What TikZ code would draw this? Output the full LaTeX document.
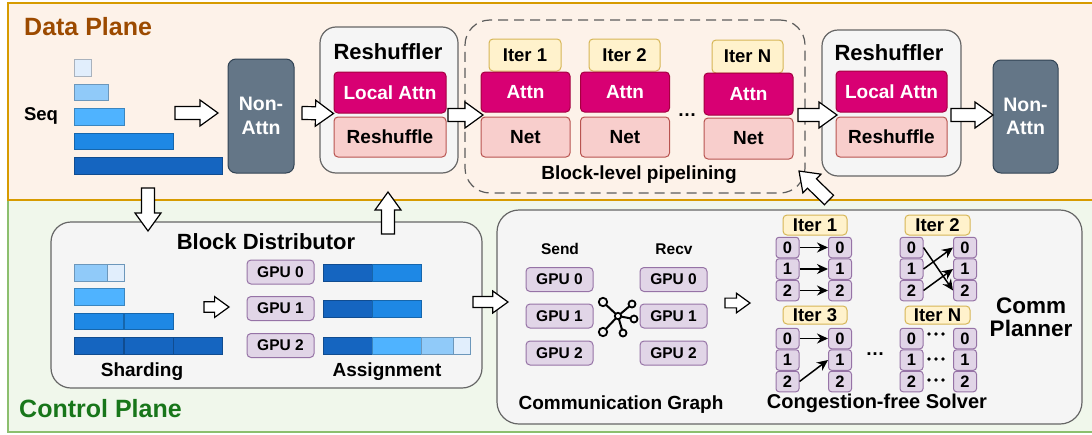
\documentclass[tikz,border=0pt]{standalone}
\usepackage{fontspec}
\setmainfont{Liberation Sans}
\usetikzlibrary{calc,arrows.meta}

\definecolor{dpFill}{HTML}{FDF2E9}
\definecolor{dpLine}{HTML}{D79B00}
\definecolor{dpText}{HTML}{9C4A00}
\definecolor{cpFill}{HTML}{F0F7EB}
\definecolor{cpLine}{HTML}{8CBF6E}
\definecolor{cpText}{HTML}{18761A}
\definecolor{hdFill}{HTML}{F5F5F5}
\definecolor{hdLine}{HTML}{666666}
\definecolor{naFill}{HTML}{647687}
\definecolor{naLine}{HTML}{314354}
\definecolor{atFill}{HTML}{D80073}
\definecolor{atLine}{HTML}{A50040}
\definecolor{ntFill}{HTML}{F8CECC}
\definecolor{ntLine}{HTML}{B85450}
\definecolor{itFill}{HTML}{FFF2CC}
\definecolor{itLine}{HTML}{D6B656}
\definecolor{gpFill}{HTML}{E1D5E7}
\definecolor{gpLine}{HTML}{9673A6}
\definecolor{sqA}{HTML}{E1EEFC}
\definecolor{sqB}{HTML}{90CAF9}
\definecolor{sqC}{HTML}{4FB3FF}
\definecolor{sqD}{HTML}{1E88E5}
\definecolor{sqE}{HTML}{1565C0}
\definecolor{dashLine}{HTML}{5C5C5C}

\newcommand{\pxf}[1]{\fontsize{#1}{#1}\selectfont\bfseries}

% white block arrow from #2 to #3, #1 scales it
\newcommand{\fatarrow}[3][1]{%
  \pgfmathsetlengthmacro{\faS}{6.5pt*#1}%
  \pgfmathsetlengthmacro{\faH}{13pt*#1}%
  \pgfmathsetlengthmacro{\faL}{18pt*#1}%
  \coordinate (fa-base) at ($(#3)!\faL!(#2)$);
  \draw[fatarr] ($(#2)!\faS!90:(#3)$) -- ($(fa-base)!\faS!90:(#3)$)
    -- ($(fa-base)!\faH!90:(#3)$) -- (#3) -- ($(fa-base)!\faH!-90:(#3)$)
    -- ($(fa-base)!\faS!-90:(#3)$) -- ($(#2)!\faS!-90:(#3)$) -- cycle;
}

\tikzset{
  box/.style={draw, line width=1pt, rounded corners=4pt, align=center, inner sep=0pt},
  nonattn/.style={box, fill=naFill, draw=naLine, text=white, rounded corners=8pt,
    minimum width=66pt, minimum height=114pt, font=\pxf{19.5}},
  holder/.style={box, fill=hdFill, draw=hdLine, line width=1.2pt, rounded corners=16pt},
  pipebox/.style={draw=dashLine, line width=1.2pt, rounded corners=25pt,
    dash pattern=on 10pt off 6pt, inner sep=0pt},
  attn/.style={box, fill=atFill, draw=atLine, text=white, minimum width=89pt,
    minimum height=40pt, font=\pxf{19}},
  net/.style={box, fill=ntFill, draw=ntLine, minimum width=89pt, minimum height=40pt,
    font=\pxf{19}},
  iter/.style={box, fill=itFill, draw=itLine, minimum width=72pt, minimum height=32pt,
    font=\pxf{18.5}},
  gpu/.style={box, fill=gpFill, draw=gpLine, minimum width=67pt, minimum height=24pt,
    font=\pxf{15.5}},
  cell/.style={box, fill=gpFill, draw=gpLine, rounded corners=3pt, minimum width=23pt,
    minimum height=20.5pt, font=\pxf{16.5}},
  bar/.style={line width=0.8pt},
  fatarr/.style={draw=black, fill=white, line width=1.2pt, line join=miter},
  lbl/.style={font=\pxf{19}, align=center, inner sep=0pt},
  move/.style={-{Stealth[length=11pt,width=10pt]}, line width=1.5pt},
}

\begin{document}
\begin{tikzpicture}[x=1pt,y=-1pt]
\useasboundingbox (0,0) rectangle (1092,434);
\clip (0,0) rectangle (1092,434);

% planes
\draw[fill=cpFill, draw=cpLine, line width=1.5pt] (8,200) rectangle (1100,432);
\draw[fill=dpFill, draw=dpLine, line width=1.5pt] (8,3) rectangle (1100,200);
\node[anchor=west, text=dpText, font=\pxf{25}, inner sep=0pt] (dptitle) at (24,27) {Data Plane};
\node[anchor=west, text=cpText, font=\pxf{25}, inner sep=0pt] (cptitle) at (19,409) {Control Plane};

% sequences
\node[lbl, font=\pxf{18.5}] (seq) at (41,116) {Seq};
\foreach \w/\y/\c in {17/59.5/sqA, 34/84/sqB, 50/108.5/sqC, 99/133/sqD, 148/157.5/sqE}
  \draw[bar, fill=\c, draw=\c!75!black] (74,\y) rectangle ++(\w,16.5);

% data plane
\node[nonattn] (naA) at (261,116) {Non-\\[4pt]Attn};

\node[holder, minimum width=138pt, minimum height=146pt] (reshA) at (389,100) {};
\node[lbl, font=\pxf{22}] (reshAt) at (388,52) {Reshuffler};
\node[attn, minimum width=112pt, minimum height=41pt] (locA) at (390,92.5) {Local Attn};
\node[net, minimum width=112pt] (shufA) at (390,137) {Reshuffle};

\node[pipebox, minimum width=340pt, minimum height=173pt] (pipe) at (635,106.5) {};
\node[iter] (it1) at (525,55) {Iter 1};
\node[attn] (at1) at (525.5,92) {Attn};
\node[net] (nt1) at (525.5,137) {Net};
\node[iter, minimum width=71pt] (it2) at (624.5,55) {Iter 2};
\node[attn] (at2) at (625,92) {Attn};
\node[net] (nt2) at (625,137) {Net};
\node[iter, minimum width=71pt, minimum height=33pt] (itN) at (747.5,56.5) {Iter N};
\node[attn, minimum height=42pt] (atN) at (748.5,94) {Attn};
\node[net, minimum height=41pt] (ntN) at (748.5,138.5) {Net};
\node[font=\pxf{19}, anchor=base, inner sep=0pt] (pdots) at (687,116) {…};
\node[lbl] (pipet) at (639,175) {Block-level pipelining};

\node[holder, minimum width=139pt, minimum height=146pt] (reshB) at (891.5,103) {};
\node[lbl, font=\pxf{22}] (reshBt) at (889,53) {Reshuffler};
\node[attn, minimum width=111pt, minimum height=41pt] (locB) at (891.5,91.5) {Local Attn};
\node[net, minimum width=111pt] (shufB) at (891.5,137) {Reshuffle};

\node[nonattn, minimum width=65pt, minimum height=113pt] (naB) at (1025.5,116.5) {Non-\\[4pt]Attn};

% block distributor
\node[holder, rounded corners=20pt, minimum width=431pt, minimum height=166pt] (bdist) at (266.5,305) {};
\node[lbl, font=\pxf{22}] (bdistt) at (266,242) {Block Distributor};
\draw[bar, fill=sqB, draw=sqB!75!black] (74,264) rectangle (107,281);
\draw[bar, fill=sqA, draw=sqB!75!black] (107,264) rectangle (124,281);
\draw[bar, fill=sqC, draw=sqC!75!black] (74,288) rectangle (124,305);
\foreach \x in {74,124}
  \draw[bar, fill=sqD, draw=sqD!75!black] (\x,313) rectangle ++(49.5,16.5);
\foreach \x in {74,124,173}
  \draw[bar, fill=sqE, draw=sqE!75!black] (\x,337) rectangle ++(49.5,17);
\node[lbl] (shard) at (142,372) {Sharding};

\foreach \i/\y in {0/272,1/308.5,2/345.5}
  \node[gpu] (bg\i) at (280.5,\y) {GPU \i};

\foreach \y in {264,300.5}{
  \draw[bar, fill=sqE, draw=sqE!75!black] (323,\y) rectangle ++(49,17);
  \draw[bar, fill=sqD, draw=sqD!75!black] (372,\y) rectangle ++(49,17);
}
\draw[bar, fill=sqE, draw=sqE!75!black] (323,337) rectangle (372,354);
\draw[bar, fill=sqC, draw=sqC!75!black] (372,337) rectangle (421,354);
\draw[bar, fill=sqB, draw=sqB!75!black] (421,337) rectangle (453,354);
\draw[bar, fill=sqA, draw=sqB!75!black] (453,337) rectangle (470,354);
\node[lbl] (assign) at (387,372) {Assignment};

% comm planner
\node[holder, rounded corners=22pt, minimum width=585pt, minimum height=214pt] (cplan) at (789.5,317) {};
\node[lbl, font=\pxf{15.5}] (send) at (560,249) {Send};
\node[lbl, font=\pxf{15.5}] (recv) at (674,249) {Recv};
\foreach \i/\y in {0/279.5,1/316,2/353}{
  \node[gpu] (sd\i) at (559.5,\y) {GPU \i};
  \node[gpu] (rv\i) at (673.5,\y) {GPU \i};
}
% graph icon
\coordinate (hub) at (618,316);
\foreach \x/\y/\r in {603/302/4.2, 632/304/3.5, 634/319/3.5, 623/333/3.5, 603/332/4.2}{
  \draw[line width=2pt] (hub) -- (\x,\y);
  \draw[line width=1.8pt, fill=hdFill] (\x,\y) circle (\r pt);
}
\draw[line width=1.8pt, fill=hdFill] (hub) circle (3.2pt);
\node[lbl] (cgraph) at (621,405) {Communication Graph};

% solver
\node[iter, minimum width=64pt, minimum height=20pt] (s1) at (815,225) {Iter 1};
\node[iter, minimum width=65pt, minimum height=20pt] (s2) at (937.5,225) {Iter 2};
\node[iter, minimum width=64pt, minimum height=18pt] (s3) at (815,315) {Iter 3};
\node[iter, minimum width=65pt, minimum height=18pt] (sN) at (937.5,315) {Iter N};
\foreach \g/\xl/\xr/\yt in {A/787.5/840/247.5, B/911.5/965/247.5, C/787.5/840/338.5, D/911.5/965/338.5}
  \foreach \r in {0,1,2}{
    \node[cell] (\g l\r) at (\xl,{\yt+21.5*\r}) {\r};
    \node[cell] (\g r\r) at (\xr,{\yt+21.5*\r}) {\r};
  }
\draw[move] (Al0.east) -- (Ar0.west);
\draw[move] (Al1.east) -- (Ar1.west);
\draw[move] (Al2.east) -- (Ar2.west);
\draw[move] (Bl0.east) -- (Br2.west);
\draw[move] (Bl1.east) -- (Br0.west);
\draw[move] (Bl2.east) -- (Br1.west);
\draw[move] (Cl0.east) -- (Cr0.west);
\draw[move] (Cl2.east) -- (Cr1.west);
% dotted rows of Iter N
\foreach \r/\y in {0/334,1/359,2/380}
  \foreach \dx in {-7,0,7}
    \fill ({936+\dx},\y) circle (1.9pt);
\node[font=\pxf{19}, anchor=base, inner sep=0pt] (sdots) at (875,355) {…};
\node[lbl, font=\pxf{20}] (solver) at (877,403) {Congestion-free Solver};
\node[lbl, font=\pxf{22.5}] (cplant) at (1031,317) {Comm\\Planner};

% block arrows
\coordinate (a1s) at (175,113);  \coordinate (a1e) at (218,113);
\coordinate (a2s) at (302,113);
\coordinate (a3s) at (448,115);  \coordinate (a3e) at (483,115);
\coordinate (a4s) at (798,115);  \coordinate (a4e) at (837,115);
\coordinate (a5s) at (951,115);  \coordinate (a5e) at (993,115);
\coordinate (a6s) at (148,188);  \coordinate (a6e) at (148,231);
\coordinate (a7s) at (388,234);  \coordinate (a7e) at (388,192);
\coordinate (a8s) at (829,200);  \coordinate (a8e) at (799,171);
\coordinate (a9s) at (204,307);  \coordinate (a9e) at (229,307);
\coordinate (a10s) at (473,302); \coordinate (a10e) at (508,302);
\coordinate (a11s) at (725,303); \coordinate (a11e) at (750,303);
\fatarrow{a1s}{a1e}
\fatarrow{a2s}{locA.south west}
\fatarrow{a3s}{a3e}
\fatarrow{a4s}{a4e}
\fatarrow{a5s}{a5e}
\fatarrow{a6s}{a6e}
\fatarrow{a7s}{a7e}
\fatarrow{a8s}{a8e}
\fatarrow[0.8]{a9s}{a9e}
\fatarrow[0.85]{a10s}{a10e}
\fatarrow[0.75]{a11s}{a11e}
\end{tikzpicture}
\end{document}
